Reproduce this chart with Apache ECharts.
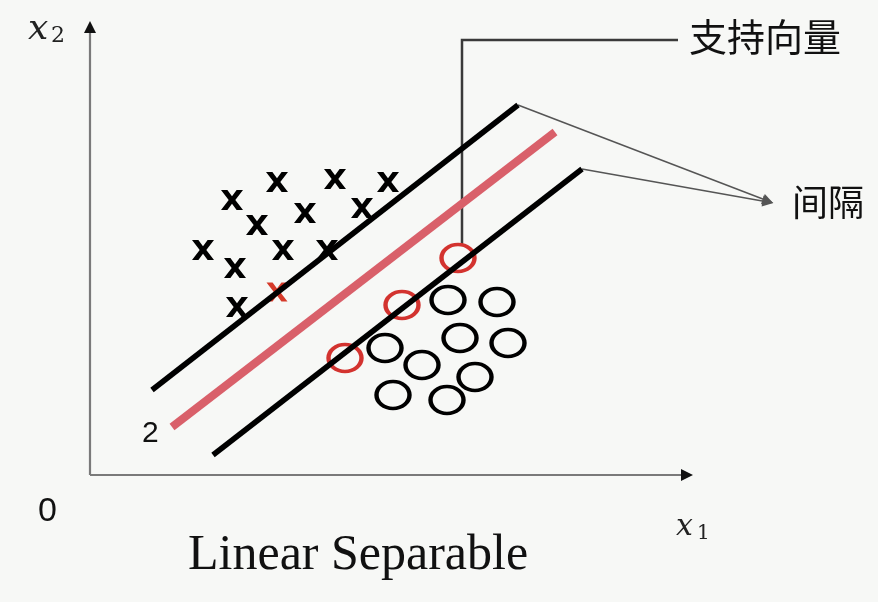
<!DOCTYPE html>
<html>
<head>
<meta charset="utf-8">
<script src="https://cdn.jsdelivr.net/npm/echarts@6/dist/echarts.min.js"></script>
<style>
html,body{margin:0;padding:0;background:#f7f8f6;}
#c{width:878px;height:602px;}
</style>
</head>
<body>
<div id="c"></div>
<script>
// data coordinates: origin at the axis corner, x to the right, y upwards
var crossPoints = [[142,275],[187,293],[245,296],[298,293],[167,250],[215,262],[272,267],[113,225],[193,225],[237,225],[145,207],[147,168]];
var supportCross = [[187,183]];
var circlePoints = [[358,175],[407,173],[295,127],[370,137],[418,132],[332,110],[385,98],[303,80],[357,75]];
var supportCircles = [[368,217],[312,170],[255,117]];
var upperMargin = [[62,85],[428,370]];
var hyperplane = [[82,48],[465,343]];
var lowerMargin = [[123,20],[492,306]];
var xAxisLine = [[0,0],[594,0]];
var yAxisLine = [[0,0],[0,445]];
var xArrowHead = [[597,0]];
var yArrowHead = [[0,448]];
var supportPointer = [[372,230],[372,435],[588,435]];
var marginPointers = [[[428,370],[678,274]],[[492,306],[678,273]]];

var chart = echarts.init(document.getElementById('c'));
var crossPath = 'path://M0,0 L29,0 L50,31 L71,0 L100,0 L65,50 L100,100 L71,100 L50,69 L29,100 L0,100 L35,50 Z';
var ellipsePath = 'path://M0,50 A50,40 0 1,1 100,50 A50,40 0 1,1 0,50 Z';

chart.setOption({
  backgroundColor: '#f7f8f6',
  animation: false,
  grid: {left: 0, right: 0, top: 0, bottom: 0},
  xAxis: {type: 'value', min: -90, max: 788, show: false},
  yAxis: {type: 'value', min: -127, max: 475, show: false},
  series: [
    {type: 'lines', coordinateSystem: 'cartesian2d', symbol: 'none',
     lineStyle: {color: '#7a7a7a', width: 2.2, opacity: 1},
     data: [{coords: xAxisLine}, {coords: yAxisLine}], silent: true},
    {type: 'scatter', data: xArrowHead, symbol: 'triangle', symbolSize: [12, 12], symbolRotate: -90, clip: false,
     itemStyle: {color: '#111', opacity: 1}},
    {type: 'scatter', data: yArrowHead, symbol: 'triangle', symbolSize: [12, 12], clip: false,
     itemStyle: {color: '#111', opacity: 1}},
    {type: 'line', data: upperMargin, showSymbol: false, clip: false, lineStyle: {color: '#000', width: 5.5}},
    {type: 'line', data: hyperplane, showSymbol: false, clip: false, lineStyle: {color: '#d9606a', width: 8}},
    {type: 'line', data: lowerMargin, showSymbol: false, clip: false, lineStyle: {color: '#000', width: 5.5}},
    {type: 'lines', coordinateSystem: 'cartesian2d', polyline: true, symbol: 'none',
     lineStyle: {color: '#3a3a3a', width: 2.5, opacity: 1},
     data: [{coords: supportPointer}], silent: true},
    {type: 'lines', coordinateSystem: 'cartesian2d', symbol: ['none', 'triangle'], symbolSize: [10, 11],
     lineStyle: {color: '#555', width: 1.5, opacity: 1},
     data: marginPointers.map(function (c) { return {coords: c}; }), silent: true},
    {type: 'scatter', data: crossPoints, symbol: crossPath, symbolSize: [22, 20], clip: false,
     itemStyle: {color: '#000', opacity: 1}},
    {type: 'scatter', data: supportCross, symbol: crossPath, symbolSize: [21, 19], clip: false,
     itemStyle: {color: '#d63a2a', opacity: 1}},
    {type: 'scatter', data: circlePoints, symbol: ellipsePath, symbolSize: [33, 27], clip: false,
     itemStyle: {color: 'rgba(0,0,0,0)', borderColor: '#000', borderWidth: 4, opacity: 1}},
    {type: 'scatter', data: supportCircles, symbol: ellipsePath, symbolSize: [33, 27], clip: false,
     itemStyle: {color: 'rgba(0,0,0,0)', borderColor: '#d3332f', borderWidth: 4, opacity: 1}}
  ],
  graphic: [
    {type: 'text', left: 28, top: 12, style: {text: 'x', font: 'italic 36px "DejaVu Serif"', fill: '#222'}},
    {type: 'text', left: 51, top: 25, style: {text: '2', font: '22px "DejaVu Serif"', fill: '#222'}},
    {type: 'text', left: 676, top: 512, style: {text: 'x', font: 'italic 30px "DejaVu Serif"', fill: '#222'}},
    {type: 'text', left: 697, top: 524, style: {text: '1', font: '20px "DejaVu Serif"', fill: '#222'}},
    {type: 'text', left: 38, top: 495, style: {text: '0', font: '34px "Liberation Sans"', fill: '#111'}},
    {type: 'text', left: 142, top: 419, style: {text: '2', font: '30px "Liberation Sans"', fill: '#111'}},
    {type: 'text', left: 188, top: 531, style: {text: 'Linear Separable', font: '50px "Liberation Serif"', fill: '#111'}},
    {type: 'text', left: 689, top: 18, style: {text: '支持向量', font: '38px "Noto Sans CJK SC"', fill: '#111'}},
    {type: 'text', left: 792, top: 184, style: {text: '间隔', font: '36px "Noto Sans CJK SC"', fill: '#111'}}
  ]
});
</script>
</body>
</html>
